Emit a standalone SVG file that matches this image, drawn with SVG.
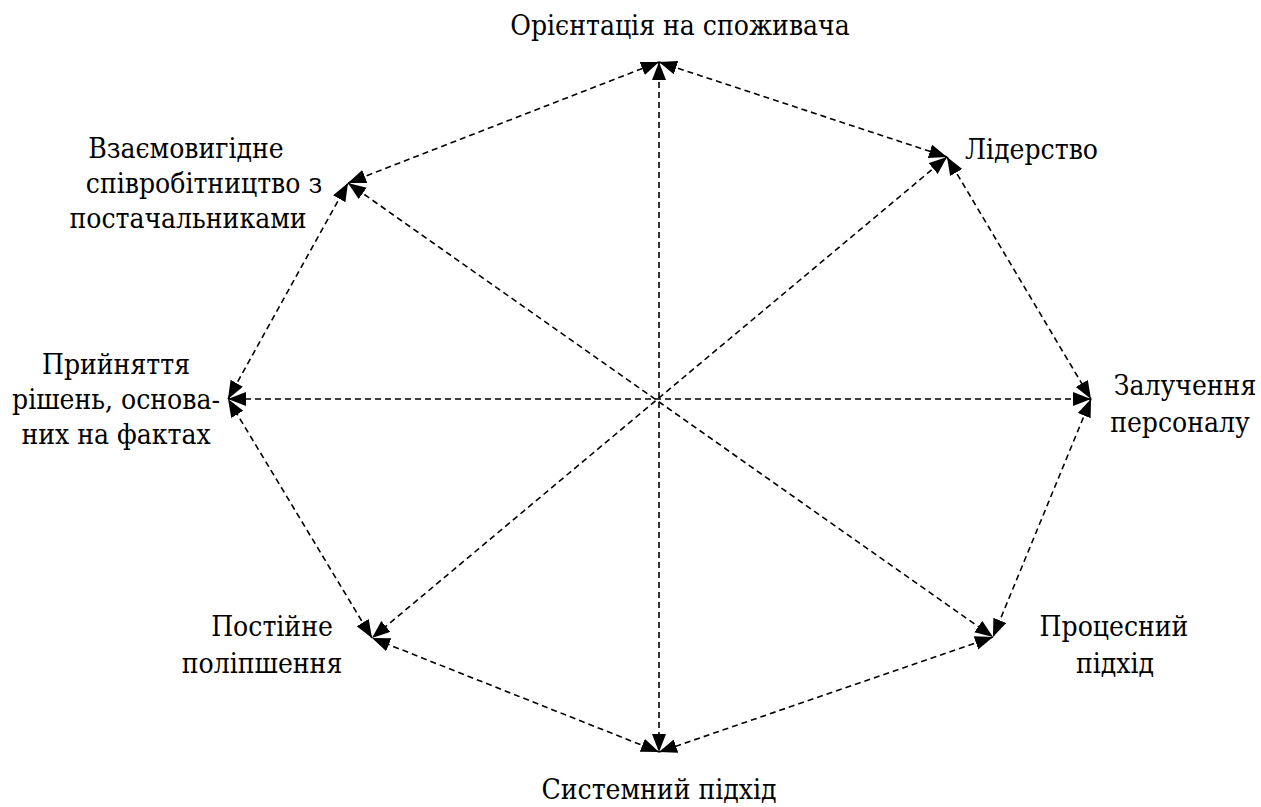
<svg xmlns="http://www.w3.org/2000/svg" width="1261" height="807" viewBox="0 0 1261 807">
<style>
.e{fill:none;stroke:#000;stroke-width:1.6;stroke-dasharray:6 4;marker-start:url(#ah);marker-end:url(#ah)}
.m{text-anchor:middle}
</style>
<defs>
<marker id="ah" markerUnits="userSpaceOnUse" markerWidth="20" markerHeight="16" refX="18" refY="7" orient="auto-start-reverse">
<path d="M0,0 L18,7 L0,14 z" fill="#000"/>
</marker>
</defs>
<rect width="1261" height="807" fill="#fff"/>
<g id="connectors">
<line class="e" x1="659" y1="62" x2="947" y2="157"/>
<line class="e" x1="947" y1="157" x2="1091" y2="399"/>
<line class="e" x1="1091" y1="399" x2="993" y2="637"/>
<line class="e" x1="993" y1="637" x2="659" y2="752"/>
<line class="e" x1="659" y1="752" x2="372" y2="638"/>
<line class="e" x1="372" y1="638" x2="228" y2="399"/>
<line class="e" x1="228" y1="399" x2="348" y2="183"/>
<line class="e" x1="348" y1="183" x2="659" y2="62"/>
<line class="e" x1="659" y1="62" x2="659" y2="752"/>
<line class="e" x1="947" y1="157" x2="372" y2="638"/>
<line class="e" x1="1091" y1="399" x2="228" y2="399"/>
<line class="e" x1="348" y1="183" x2="993" y2="637"/>
</g>
<g font-family="DejaVu Serif Condensed, DejaVu Serif, serif" font-size="28" fill="#000">
<g id="n-orientation"><text class="m" x="680" y="35">Орієнтація на споживача</text></g>
<g id="n-leadership"><text x="965" y="159">Лідерство</text></g>
<g id="n-involvement"><text class="m" x="1185" y="395">Залучення</text><text class="m" x="1180" y="432">персоналу</text></g>
<g id="n-process"><text class="m" x="1114" y="636">Процесний</text><text class="m" x="1115" y="673">підхід</text></g>
<g id="n-system"><text class="m" x="659" y="799">Системний підхід</text></g>
<g id="n-improvement"><text class="m" x="272" y="636">Постійне</text><text class="m" x="262" y="673">поліпшення</text></g>
<g id="n-decisions"><text class="m" x="116" y="374">Прийняття</text><text class="m" x="116" y="409">рішень, основа-</text><text class="m" x="116" y="444">них на фактах</text></g>
<g id="n-suppliers"><text class="m" x="186" y="158">Взаємовигідне</text><text class="m" x="204" y="193">співробітництво з</text><text class="m" x="188" y="228">постачальниками</text></g>
</g>
</svg>
